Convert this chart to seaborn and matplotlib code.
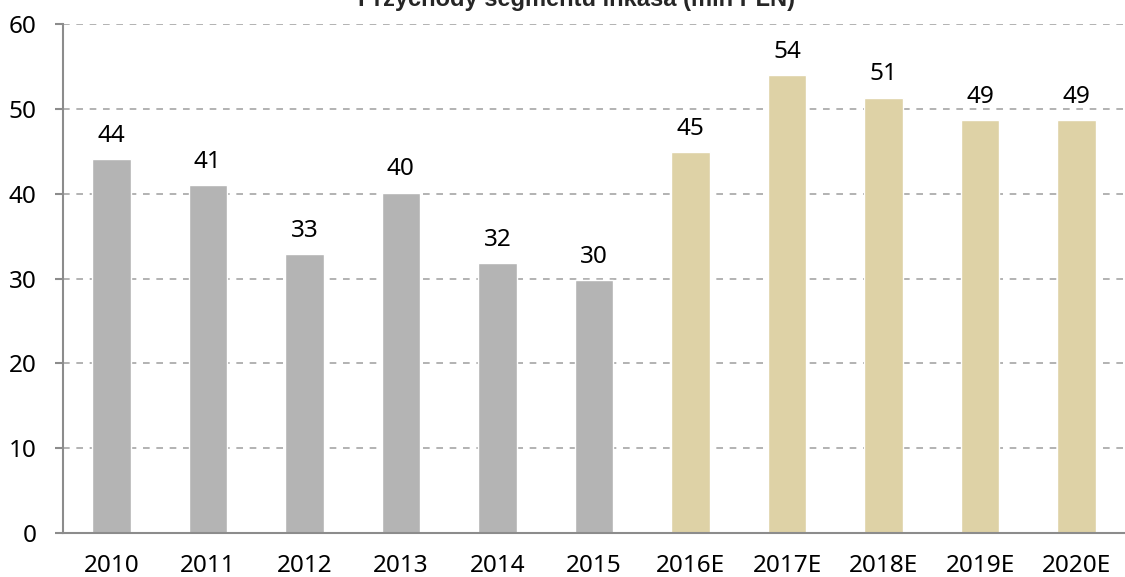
import matplotlib
matplotlib.use("Agg")
import matplotlib.pyplot as plt
import seaborn as sns
import pandas as pd
import numpy as np

years = ["2010", "2011", "2012", "2013", "2014", "2015",
         "2016E", "2017E", "2018E", "2019E", "2020E"]
revenue = [44.1, 41.0, 32.9, 40.1, 31.8, 29.8, 44.9, 54.0, 51.3, 48.7, 48.7]
kind = ["actual"] * 6 + ["forecast"] * 5

title = "Przychody segmentu inkasa (mln PLN)"
yticks = [0, 10, 20, 30, 40, 50, 60]

palette = {"actual": "#b4b4b4", "forecast": "#ded2a6"}

sns.set_style("white")
plt.rcParams["font.family"] = ["Noto Sans", "DejaVu Sans"]

df = pd.DataFrame({"year": years, "revenue": revenue, "kind": kind})

fig = plt.figure(figsize=(11.25, 5.77), dpi=100)
ax = fig.add_axes([63 / 1125, 1 - 533 / 577, 1 - 63 / 1125, (533 - 24) / 577])

sns.barplot(data=df, x="year", y="revenue", hue="kind", palette=palette,
            dodge=False, width=0.4, legend=False, ax=ax, saturation=1)

ax.set_xlim(-0.5, len(years) - 0.5)
ax.set_ylim(0, 60)
ax.set_yticks(yticks)
ax.set_xlabel("")
ax.set_ylabel("")

ax.yaxis.grid(True, linestyle=(0, (4, 4)), color="#a6a6a6", linewidth=1.2)
ax.set_axisbelow(True)

for side in ["top", "right"]:
    ax.spines[side].set_visible(False)
for side in ["left", "bottom"]:
    ax.spines[side].set_color("#8c8c8c")
    ax.spines[side].set_linewidth(1.5)

# tick marks sit between categories on the x axis
ax.set_xticks(np.arange(len(years)))
ax.set_xticklabels(years)
ax.set_xticks(np.arange(-0.5, len(years) - 0.4, 1.0), minor=True)
ax.tick_params(axis="x", which="major", length=0, labelsize=17.5, pad=15, colors="black")
ax.tick_params(axis="x", which="minor", length=6, width=1.5, color="#8c8c8c", direction="out")
ax.tick_params(axis="y", length=6, width=1.5, color="#8c8c8c", direction="out",
               labelsize=17.5, pad=13, labelcolor="black", left=True)

for i, v in enumerate(revenue):
    ax.annotate(f"{v:.0f}", xy=(i, v), xytext=(0, 12.5), textcoords="offset points",
                ha="center", va="baseline", fontsize=17.5, color="black")

fig.text(576 / 1125, 1 - 6 / 577, title, ha="center", va="baseline",
         fontsize=17, fontweight="bold", family=["Liberation Sans", "DejaVu Sans"])

fig.savefig("out.png", dpi=100)
